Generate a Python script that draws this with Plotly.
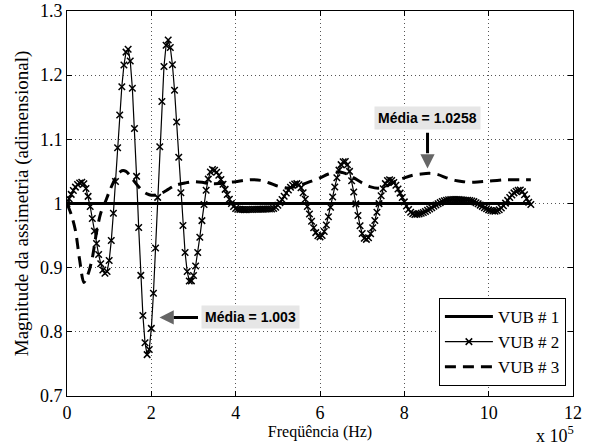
import plotly.graph_objects as go

# ---------------- data ----------------
freq_vub1 = [0, 1100000]
vub1 = [1.0, 1.0]

freq_vub2 = list(range(0, 1100001, 5000))
vub2 = [
    1.0000, 1.0073, 1.0142, 1.0203, 1.0255, 1.0295, 1.0320, 1.0330, 1.0308, 1.0233,
    1.0111, 0.9952, 0.9766, 0.9571, 0.9377, 0.9205, 0.9062, 0.8963, 0.8914, 0.8939,
    0.9111, 0.9422, 0.9847, 1.0344, 1.0870, 1.1378, 1.1820, 1.2157, 1.2359, 1.2405,
    1.2220, 1.1795, 1.1170, 1.0423, 0.9627, 0.8880, 0.8256, 0.7830, 0.7645, 0.7724,
    0.8054, 0.8600, 0.9306, 1.0095, 1.0884, 1.1590, 1.2136, 1.2466, 1.2547, 1.2432,
    1.2163, 1.1765, 1.1269, 1.0721, 1.0167, 0.9658, 0.9237, 0.8940, 0.8793, 0.8794,
    0.8877, 0.9027, 0.9235, 0.9475, 0.9733, 0.9984, 1.0207, 1.0380, 1.0492, 1.0530,
    1.0519, 1.0488, 1.0439, 1.0375, 1.0300, 1.0220, 1.0140, 1.0065, 1.0001, 0.9952,
    0.9921, 0.9910, 0.9908, 0.9906, 0.9905, 0.9905, 0.9906, 0.9907, 0.9908, 0.9909,
    0.9910, 0.9910, 0.9911, 0.9912, 0.9913, 0.9914, 0.9915, 0.9915, 0.9922, 0.9941,
    0.9973, 1.0014, 1.0061, 1.0113, 1.0164, 1.0211, 1.0252, 1.0284, 1.0303, 1.0310,
    1.0293, 1.0244, 1.0167, 1.0067, 0.9954, 0.9836, 0.9723, 0.9623, 0.9546, 0.9497,
    0.9480, 0.9501, 0.9564, 0.9664, 0.9794, 0.9943, 1.0102, 1.0258, 1.0401, 1.0520,
    1.0606, 1.0652, 1.0655, 1.0604, 1.0501, 1.0355, 1.0180, 0.9994, 0.9812, 0.9653,
    0.9532, 0.9458, 0.9441, 0.9467, 0.9529, 0.9621, 0.9736, 0.9865, 0.9998, 1.0122,
    1.0229, 1.0310, 1.0358, 1.0370, 1.0357, 1.0328, 1.0283, 1.0227, 1.0162, 1.0093,
    1.0025, 0.9961, 0.9907, 0.9865, 0.9839, 0.9830, 0.9832, 0.9838, 0.9847, 0.9860,
    0.9876, 0.9894, 0.9913, 0.9934, 0.9956, 0.9977, 0.9996, 1.0014, 1.0030, 1.0043,
    1.0052, 1.0058, 1.0060, 1.0061, 1.0061, 1.0061, 1.0060, 1.0058, 1.0055, 1.0052,
    1.0050, 1.0048, 1.0040, 1.0029, 1.0013, 0.9995, 0.9975, 0.9955, 0.9935, 0.9917,
    0.9901, 0.9890, 0.9882, 0.9880, 0.9886, 0.9903, 0.9930, 0.9965, 1.0006, 1.0049,
    1.0093, 1.0132, 1.0166, 1.0192, 1.0206, 1.0209, 1.0185, 1.0135, 1.0075, 1.0020,
    0.9985,
]

freq_vub3 = [
    0, 10000, 20000, 30000, 40000, 50000, 60000, 70000, 80000, 90000,
    100000, 110000, 120000, 130000, 140000, 150000, 160000, 170000, 180000, 190000,
    200000, 210000, 220000, 230000, 240000, 250000, 260000, 280000, 300000, 320000,
    340000, 360000, 380000, 400000, 420000, 440000, 460000, 480000, 500000, 520000,
    540000, 560000, 580000, 600000, 620000, 640000, 660000, 680000, 700000, 720000,
    740000, 760000, 780000, 800000, 820000, 840000, 860000, 880000, 900000, 920000,
    940000, 960000, 980000, 1000000, 1020000, 1040000, 1060000, 1080000, 1100000,
]
vub3 = [
    1.000, 0.983, 0.958, 0.912, 0.877, 0.890, 0.915, 0.955, 0.985, 1.001,
    1.018, 1.033, 1.045, 1.051, 1.050, 1.043, 1.034, 1.026, 1.019, 1.015,
    1.013, 1.013, 1.015, 1.018, 1.022, 1.026, 1.029, 1.032, 1.034, 1.033,
    1.031, 1.031, 1.033, 1.034, 1.036, 1.037, 1.036, 1.032, 1.027, 1.024,
    1.026, 1.030, 1.035, 1.040, 1.046, 1.049, 1.047, 1.040, 1.032, 1.026,
    1.024, 1.028, 1.035, 1.040, 1.044, 1.046, 1.047, 1.045, 1.040, 1.036,
    1.034, 1.033, 1.034, 1.035, 1.036, 1.037, 1.037, 1.037, 1.037,
]

series_names = ["VUB # 1", "VUB # 2", "VUB # 3"]
x_tickvals = [0, 200000, 400000, 600000, 800000, 1000000, 1200000]
x_ticktext = ["0", "2", "4", "6", "8", "10", "12"]
y_tickvals = [0.7, 0.8, 0.9, 1.0, 1.1, 1.2, 1.3]
y_ticktext = ["0.7", "0.8", "0.9", "1", "1.1", "1.2", "1.3"]

mean_vub3_label = "Média = 1.0258"
mean_vub2_label = "Média = 1.003"

SERIF = "Liberation Serif"
SANS = "Liberation Sans"

fig = go.Figure()
fig.add_trace(go.Scatter(
    x=freq_vub1, y=vub1, mode="lines", name=series_names[0],
    line=dict(color="black", width=3)))
fig.add_trace(go.Scatter(
    x=freq_vub2, y=vub2, mode="lines+markers", name=series_names[1],
    line=dict(color="black", width=1.2),
    marker=dict(symbol="x-thin", size=6.5, color="black",
                line=dict(color="black", width=1.5))))
fig.add_trace(go.Scatter(
    x=freq_vub3, y=vub3, mode="lines", name=series_names[2],
    line=dict(color="black", width=3, dash="11px,7px", shape="spline", smoothing=0.8)))

axis_common = dict(
    showline=True, linecolor="black", linewidth=1, mirror="ticks",
    ticks="inside", ticklen=5, tickcolor="black", automargin=False,
    showgrid=True, gridcolor="#555555", gridwidth=1, griddash="1px,3px",
    zeroline=False, tickfont=dict(family=SERIF, size=18, color="black"),
)

fig.update_xaxes(range=[0, 1200000], tickvals=x_tickvals, ticktext=x_ticktext,
                 title=dict(text="Freqüência (Hz)", font=dict(family=SERIF, size=16, color="black"),
                            standoff=4),
                 **axis_common)
fig.update_yaxes(range=[0.7, 1.3], tickvals=y_tickvals, ticktext=y_ticktext,
                 title=dict(text="Magnitude da assimetria (adimensional)",
                            font=dict(family=SERIF, size=19, color="black"), standoff=6),
                 **axis_common)

annotations = [
    dict(x=855000, y=1.133, xref="x", yref="y", text="<b>" + mean_vub3_label + "</b>",
         showarrow=False, bgcolor="#e6e6e6", borderpad=3,
         font=dict(family=SANS, size=14, color="black")),
    dict(x=855000, y=1.0783, xref="x", yref="y", text="", showarrow=True,
         arrowhead=0, arrowwidth=3, arrowcolor="black", ax=0, ay=-22, standoff=0),
    dict(x=855000, y=1.0545, xref="x", yref="y", text="", showarrow=True,
         arrowhead=2, arrowsize=0.95, arrowwidth=3, arrowcolor="#666666",
         ax=0, ay=-14, standoff=0),
    dict(x=435600, y=0.8234, xref="x", yref="y", text="<b>" + mean_vub2_label + "</b>",
         showarrow=False, bgcolor="#e6e6e6", borderpad=3,
         font=dict(family=SANS, size=14, color="black")),
    dict(x=252600, y=0.8224, xref="x", yref="y", text="", showarrow=True,
         arrowhead=0, arrowwidth=3, arrowcolor="black", ax=26, ay=0, standoff=0),
    dict(x=219400, y=0.8224, xref="x", yref="y", text="", showarrow=True,
         arrowhead=2, arrowsize=0.95, arrowwidth=3, arrowcolor="#666666",
         ax=14, ay=0, standoff=0),
    dict(x=0.9645, y=-0.133, xref="paper", yref="paper", xanchor="center", yanchor="bottom",
         text="x 10<sup>5</sup>", borderpad=0,
         showarrow=False, font=dict(family=SERIF, size=18, color="black")),
]

fig.update_layout(
    width=590, height=446,
    margin=dict(l=67, r=17, t=11, b=50, autoexpand=False),
    paper_bgcolor="white", plot_bgcolor="white",
    showlegend=True,
    legend=dict(x=0.986, y=0.026, xanchor="right", yanchor="bottom",
                bgcolor="white", bordercolor="black", borderwidth=1,
                font=dict(family=SERIF, size=17, color="black"),
                itemwidth=48, traceorder="normal"),
    annotations=annotations,
)

fig.write_html("out.html", config={"displayModeBar": False},
               post_script="document.body.style.margin='0';document.body.style.overflow='hidden';")
